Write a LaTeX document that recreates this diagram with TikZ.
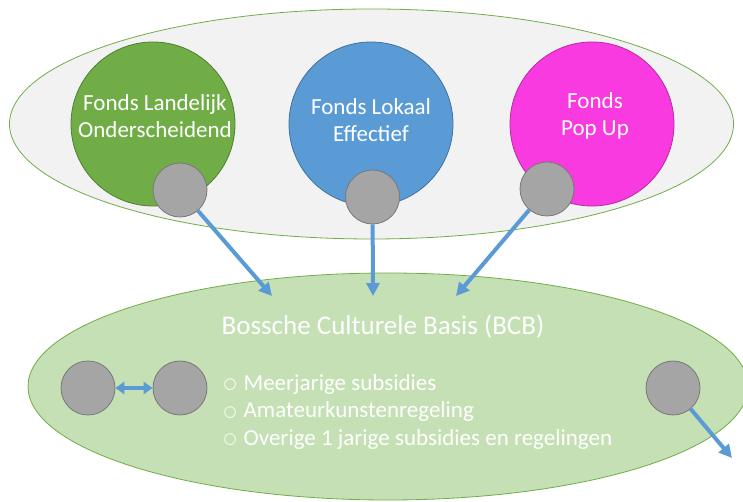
\documentclass[tikz,border=0pt]{standalone}
\usepackage{fontspec}
\setmainfont{Carlito}
\newfontfamily\bulletfont{DejaVu Sans}
\usepackage{xcolor}
\usetikzlibrary{shapes.geometric,arrows.meta,positioning}
\definecolor{cloudgray}{HTML}{F2F2F2}
\definecolor{fondsgreen}{HTML}{70AD47}
\definecolor{greenborder}{HTML}{507E32}
\definecolor{fondsblue}{HTML}{5B9BD5}
\definecolor{blueborder}{HTML}{41719C}
\definecolor{fondspink}{HTML}{F93AE0}
\definecolor{pinkborder}{HTML}{B02CA0}
\definecolor{basisgreen}{HTML}{C5E0B4}
\definecolor{dotgray}{HTML}{A5A5A5}
\definecolor{dotborder}{HTML}{787878}
\newcommand{\listbullet}{\raisebox{1.5pt}{\bulletfont\fontsize{15}{15}\selectfont ○}\hspace{7pt}}

\begin{document}
\begin{tikzpicture}[x=1pt, y=1pt, >={Triangle[length=13pt,width=13pt]}, line/.style={draw=fondsblue, line width=4pt}]
% Define styles for ellipses, fonds, dots and texts
\tikzstyle{cloud} = [ellipse, inner sep=0pt, line width=0.8pt]
\tikzstyle{fonds} = [draw, circle, minimum size=164pt, inner sep=0pt, line width=0.8pt]
\tikzstyle{dot} = [draw=dotborder, fill=dotgray, circle, minimum size=54pt, inner sep=0pt, line width=0.8pt]
\tikzstyle{caption} = [text=white, align=center, font=\fontsize{23}{27}\selectfont]

\useasboundingbox (0,0) rectangle (743,502);
\clip (0,0) rectangle (743,502);

% Outer ellipses
\node [cloud, draw=fondsgreen, fill=cloudgray, minimum width=724pt, minimum height=230pt] (funds) at (371.5,378) {};
\node [cloud, draw=fondsgreen, fill=basisgreen, minimum width=720pt, minimum height=227pt] (bcb) at (388,115.5) {};

% Fonds placement
\node [fonds, fill=fondsgreen, draw=greenborder] (landelijk) at (153,378) {};
\node [fonds, fill=fondsblue, draw=blueborder, right of=landelijk, node distance=218pt] (lokaal) {};
\node [fonds, fill=fondspink, draw=pinkborder, right of=lokaal, node distance=221pt] (popup) {};

\node [caption] (landelijktext) at ([xshift=2pt, yshift=8pt]landelijk.center) {Fonds Landelijk\\Onderscheidend};
\node [caption] (lokaaltext) at ([yshift=4pt]lokaal.center) {Fonds Lokaal\\Effectief};
\node [caption] (popuptext) at ([xshift=3pt, yshift=8pt]popup.center) {Fonds\\Pop Up};

% Dots on the fonds
\node [dot] (dotlandelijk) at (180,312) {};
\node [dot] (dotlokaal) at (372.5,305) {};
\node [dot] (dotpopup) at (547,313) {};

% BCB texts
\node [caption, font=\fontsize{27}{32}\selectfont] (bcbtitle) at (383,175) {Bossche Culturele Basis (BCB)};
\node [caption, align=left, anchor=west, font=\fontsize{23}{27.5}\selectfont] (bcblist) at (220,90.5)
  {\listbullet Meerjarige subsidies\\
   \listbullet Amateurkunstenregeling\\
   \listbullet Overige 1 jarige subsidies en regelingen};

% Dots in the BCB
\node [dot] (dotleft) at (88,114) {};
\node [dot, right of=dotleft, node distance=92pt] (dotmid) {};
\node [dot] (dotright) at (673,114) {};

% Arrow ends
\coordinate (inlandelijk) at (272,206);
\coordinate (inlokaal) at (373,206);
\coordinate (inpopup) at (456,206);
\coordinate (out) at (732,44);

% Draw edges
\draw[line, ->] (dotlandelijk) -- (inlandelijk);
\draw[line, ->] (dotlokaal) -- (inlokaal);
\draw[line, ->] (dotpopup) -- (inpopup);
\draw[line, line width=3.5pt, {Triangle[length=9pt,width=12pt]}-{Triangle[length=9pt,width=12pt]}] (dotleft) -- (dotmid);
\draw[line, ->] (dotright) -- (out);
\end{tikzpicture}
\end{document}
